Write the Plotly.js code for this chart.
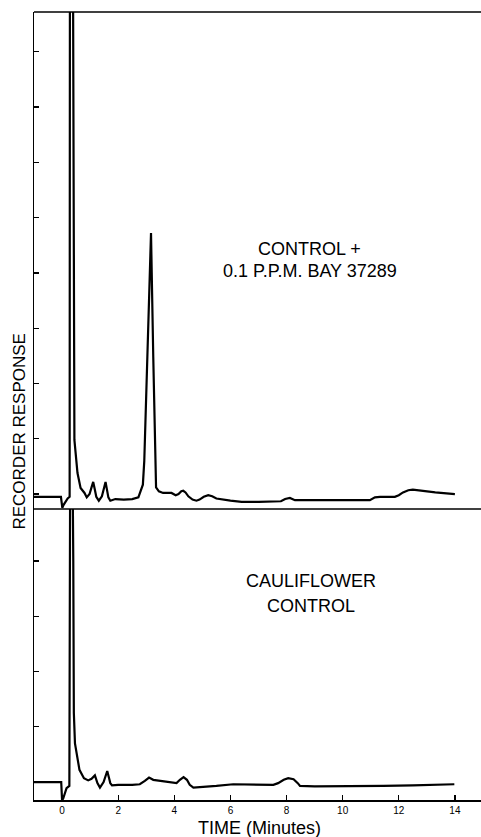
<!DOCTYPE html>
<html>
<head>
<meta charset="utf-8">
<script src="https://cdn.plot.ly/plotly-3.0.1.min.js"></script>
<style>
html,body{margin:0;padding:0;background:#fff;}
#chart{width:481px;height:837px;}
</style>
</head>
<body>
<div id="chart"></div>
<script>
// Upper chromatogram: CONTROL + 0.1 P.P.M. BAY 37289 (time in minutes, response in tick divisions)
const timeUpper = [-1.0, -0.04, 0.01, 0.05, 0.2, 0.27, 0.28, 0.39, 0.44, 0.55, 0.66, 0.75, 0.8, 0.88, 0.98, 1.05, 1.11, 1.16, 1.22, 1.31, 1.42, 1.5, 1.55, 1.6, 1.65, 1.72, 1.9, 2.2, 2.5, 2.72, 2.8, 2.88, 2.93, 3.03, 3.17, 3.25, 3.32, 3.35, 3.45, 3.6, 3.9, 4.05, 4.15, 4.25, 4.32, 4.4, 4.5, 4.65, 4.79, 4.9, 5.05, 5.21, 5.35, 5.5, 6.0, 6.4, 7.0, 7.8, 7.95, 8.12, 8.3, 8.5, 9.5, 10.5, 10.97, 11.15, 11.33, 11.86, 12.0, 12.15, 12.34, 12.5, 12.8, 13.3, 14.0];
const respUpper = [-0.05, -0.05, -0.25, -0.2, -0.08, -0.05, 9.5, 9.5, 0.98, 0.38, 0.11, 0.06, 0.02, -0.06, 0.0, 0.12, 0.22, 0.1, -0.05, -0.12, -0.04, 0.12, 0.22, 0.08, -0.06, -0.12, -0.09, -0.1, -0.09, -0.06, 0.05, 0.17, 0.6, 2.48, 4.72, 2.48, 0.4, 0.12, 0.05, 0.02, 0.02, -0.02, 0.0, 0.05, 0.06, 0.03, -0.04, -0.1, -0.12, -0.1, -0.05, -0.02, -0.04, -0.08, -0.12, -0.14, -0.14, -0.13, -0.09, -0.07, -0.11, -0.11, -0.12, -0.11, -0.11, -0.06, -0.05, -0.05, -0.02, 0.03, 0.07, 0.08, 0.06, 0.03, 0.0];

// Lower chromatogram: CAULIFLOWER CONTROL
const timeLower = [-1.0, -0.03, 0.0, 0.04, 0.16, 0.26, 0.29, 0.37, 0.40, 0.42, 0.46, 0.52, 0.62, 0.78, 0.93, 1.05, 1.17, 1.26, 1.35, 1.48, 1.56, 1.61, 1.66, 1.72, 1.78, 2.0, 2.5, 2.77, 2.95, 3.1, 3.25, 3.5, 3.72, 4.08, 4.2, 4.33, 4.45, 4.55, 4.68, 5.0, 5.5, 6.1, 6.8, 7.53, 7.7, 7.9, 8.06, 8.25, 8.4, 8.48, 9.0, 9.67, 10.5, 11.45, 12.5, 13.98];
const respLower = [0.0, 0.0, -0.33, -0.3, -0.11, -0.07, 6.0, 6.0, 4.0, 1.25, 0.7, 0.5, 0.22, 0.07, 0.03, 0.06, 0.12, -0.02, -0.1, 0.0, 0.14, 0.2, 0.1, -0.02, -0.06, -0.05, -0.05, -0.04, 0.02, 0.08, 0.04, 0.02, 0.0, -0.02, 0.04, 0.09, 0.04, -0.05, -0.1, -0.09, -0.07, -0.04, -0.05, -0.05, -0.02, 0.04, 0.07, 0.05, -0.02, -0.07, -0.08, -0.08, -0.07, -0.07, -0.06, -0.04];

const xTicks = [0, 2, 4, 6, 8, 10, 12, 14];
const xTickText = ["0", "2", "4", "6", "8", "10", "12", "14"];
const upperTicks = [0, 1, 2, 3, 4, 5, 6, 7, 8];
const lowerTicks = [0, 1, 2, 3, 4];

const split = 0.3693;
const font = "Liberation Sans, Arial, sans-serif";

const traces = [
  {x: timeUpper, y: respUpper, xaxis: 'x', yaxis: 'y2', mode: 'lines',
   line: {color: '#000', width: 2.2}, hoverinfo: 'skip'},
  {x: timeLower, y: respLower, xaxis: 'x', yaxis: 'y', mode: 'lines',
   line: {color: '#000', width: 2.2}, hoverinfo: 'skip'}
];

function label(text, x, y, size, extra) {
  return Object.assign({text: text, xref: 'paper', yref: 'paper', x: x, y: y,
    xanchor: 'center', yanchor: 'middle', showarrow: false,
    font: {family: font, size: size, color: '#000'}}, extra || {});
}

const layout = {
  width: 481, height: 837,
  margin: {l: 34, r: 0, t: 12, b: 37},
  paper_bgcolor: '#fff', plot_bgcolor: '#fff',
  showlegend: false,
  font: {family: font, color: '#000'},
  xaxis: {
    range: [-1, 14.93], tickvals: xTicks, ticktext: xTickText,
    ticks: 'inside', ticklen: 5, tickwidth: 1.2, tickcolor: '#000',
    showline: true, linecolor: '#000', linewidth: 1.5,
    showgrid: false, zeroline: false, anchor: 'y',
    tickfont: {family: font, size: 10, color: '#000'}
  },
  yaxis: {
    domain: [0, split], range: [-0.325, 4.94], tickvals: lowerTicks,
    ticks: 'inside', ticklen: 5, tickwidth: 1.2, tickcolor: '#000',
    showticklabels: false, showline: true, linecolor: '#000', linewidth: 1.5,
    showgrid: false, zeroline: false, anchor: 'x'
  },
  yaxis2: {
    domain: [split, 1], range: [-0.27, 8.72], tickvals: upperTicks,
    ticks: 'inside', ticklen: 5, tickwidth: 1.2, tickcolor: '#000',
    showticklabels: false, showline: true, linecolor: '#000', linewidth: 1.5,
    showgrid: false, zeroline: false, anchor: 'x'
  },
  shapes: [
    {type: 'line', xref: 'paper', yref: 'paper', x0: 0, x1: 1, y0: 1, y1: 1, line: {color: '#000', width: 1.5}},
    {type: 'line', xref: 'paper', yref: 'paper', x0: 0, x1: 1, y0: split, y1: split, line: {color: '#000', width: 1.5}}
  ],
  annotations: [
    label('CONTROL +', 0.6174, 0.6992, 18),
    label('0.1 P.P.M. BAY 37289', 0.6174, 0.6713, 18),
    label('CAULIFLOWER', 0.6196, 0.2779, 18),
    label('CONTROL', 0.6196, 0.2462, 18),
    label('RECORDER RESPONSE', -0.0313, 0.4676, 17, {textangle: -90}),
    label('TIME (Minutes)', 0.5045, -0.0355, 18)
  ]
};

Plotly.newPlot('chart', traces, layout, {staticPlot: true, displayModeBar: false});
</script>
</body>
</html>
